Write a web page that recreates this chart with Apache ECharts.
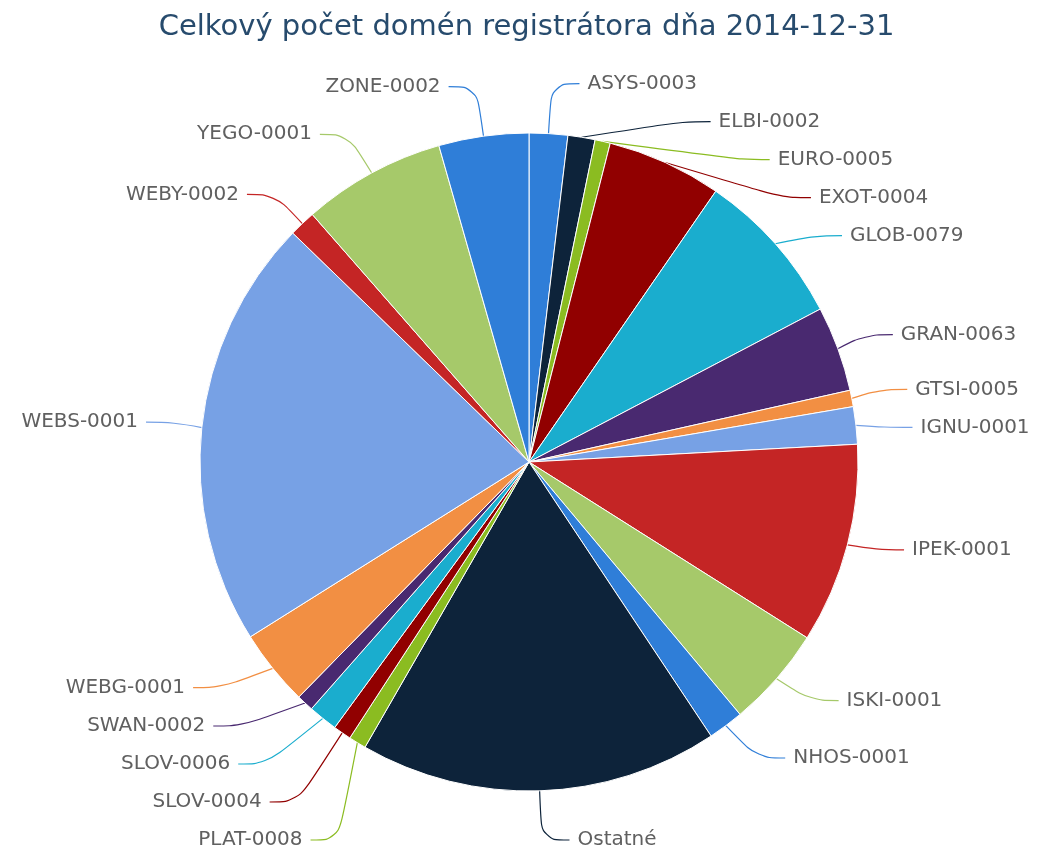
<!DOCTYPE html>
<html>
<head>
<meta charset="utf-8">
<script src="https://cdn.jsdelivr.net/npm/echarts@6/dist/echarts.min.js"></script>
<style>
  html, body { margin: 0; padding: 0; background: #fff; }
  #chart { width: 1053px; height: 859px; }
</style>
</head>
<body>
<div id="chart"></div>
<script>
var registrars = ['ASYS-0003', 'ELBI-0002', 'EURO-0005', 'EXOT-0004', 'GLOB-0079', 'GRAN-0063', 'GTSI-0005',
    'IGNU-0001', 'IPEK-0001', 'ISKI-0001', 'NHOS-0001', 'Ostatné', 'PLAT-0008', 'SLOV-0004', 'SLOV-0006',
    'SWAN-0002', 'WEBG-0001', 'WEBS-0001', 'WEBY-0002', 'YEGO-0001', 'ZONE-0002'];
var domainCounts = [68, 48, 27, 203, 277, 151, 29, 66, 354, 178, 63, 635, 31, 32, 52, 30, 135, 762, 47, 253, 159];
var palette = ['#2f7ed8', '#0d233a', '#8bbc21', '#910000', '#1aadce', '#492970', '#f28f43', '#77a1e5', '#c42525', '#a6c96a'];

// longer connectors for labels sitting above / below the pie
var longLines = {'ASYS-0003': 50, 'ZONE-0002': 50, 'YEGO-0001': 44, 'WEBY-0002': 40, 'Ostatné': 58,
    'ISKI-0001': 44, 'NHOS-0001': 50};

var myChart = echarts.init(document.getElementById('chart'));
var pieData = registrars.map(function (name, i) {
    var item = {name: name, value: domainCounts[i]};
    if (longLines[name]) {
        item.labelLine = {length: longLines[name]};
    }
    return item;
});
var option = {
    backgroundColor: '#fff',
    color: palette,
    title: {
        text: 'Celkový počet domén registrátora dňa 2014-12-31',
        left: 'center',
        top: 8,
        textStyle: {color: '#274b6d', fontSize: 29, fontWeight: 'normal', fontFamily: 'DejaVu Sans'}
    },
    series: [
        {
            type: 'pie',
            center: [529, 462],
            radius: 329,
            startAngle: 90,
            clockwise: true,
            avoidLabelOverlap: true,
            data: pieData,
            itemStyle: {borderColor: '#fff', borderWidth: 1},
            label: {
                show: true,
                position: 'outside',
                color: '#606060',
                fontSize: 20,
                lineHeight: 36,
                fontFamily: 'DejaVu Sans',
                distanceToLabelLine: 8,
                formatter: '{b}'
            },
            labelLine: {show: true, length: 36, length2: 28, smooth: 0.4, lineStyle: {width: 1.2}},
            emphasis: {scale: false}
        }
    ]
};
myChart.setOption(option);
</script>
</body>
</html>
